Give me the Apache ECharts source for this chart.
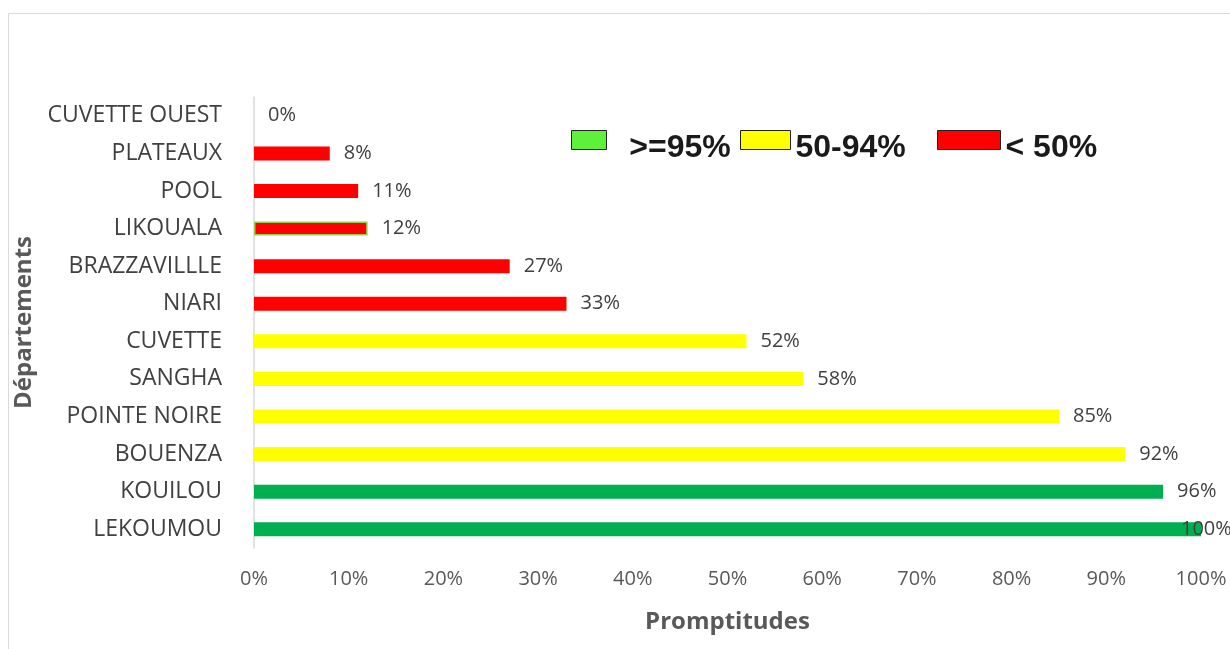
<!DOCTYPE html>
<html>
<head>
<meta charset="utf-8">
<script src="https://cdn.jsdelivr.net/npm/echarts@6/dist/echarts.min.js"></script>
<style>
  html, body { margin: 0; padding: 0; background: #fff; }
  #chart { width: 1230px; height: 649px; }
</style>
</head>
<body>
<div id="chart"></div>
<script>
// categories from bottom to top
const departements = ['LEKOUMOU', 'KOUILOU', 'BOUENZA', 'POINTE NOIRE', 'SANGHA', 'CUVETTE',
  'NIARI', 'BRAZZAVILLLE', 'LIKOUALA', 'POOL', 'PLATEAUX', 'CUVETTE OUEST'];
const promptitudes = [100, 96, 92, 85, 58, 52, 33, 27, 12, 11, 8, 0];
const xTicks = [0, 10, 20, 30, 40, 50, 60, 70, 80, 90, 100];
const classes = ['>=95%', '50-94%', '< 50%'];

const font = '"Open Sans", "Noto Sans", sans-serif';

// split values into the three colour classes
function inClass(v, k) {
  if (k === 0) return v >= 95;
  if (k === 1) return v >= 50 && v < 95;
  return v < 50;
}
const barColors = ['#00b050', '#ffff00', '#ff0000'];
const legendColors = ['#5ff03b', '#ffff00', '#ff0000'];
// legend boxes in the original have different widths
const legendLeft = [571, 740, 937];
const legendBoxW = [35, 50, 63];
const legendPad = ['  ', '', ''];

const series = classes.map((name, k) => ({
  name: name,
  type: 'bar',
  stack: 'all',
  barWidth: 14,
  itemStyle: { color: barColors[k] },
  label: {
    show: true, position: 'right', distance: 14,
    formatter: '{c}%', fontFamily: font, fontSize: 20, color: '#404040'
  },
  data: promptitudes.map((v, i) => {
    if (!inClass(v, k)) return null;
    const item = { value: v };
    if (departements[i] === 'LIKOUALA') item.itemStyle = { borderColor: '#92d050', borderWidth: 1.5 };
    if (v === 100) item.label = { offset: [-34, 0] };
    return item;
  })
}));

const legendFont = { fontFamily: 'Liberation Sans, Arial, sans-serif', fontWeight: 'bold', fontSize: 32, color: '#1a1a1a' };
const legends = classes.map((name, k) => ({
  left: legendLeft[k], top: 130, padding: 0,
  icon: 'rect',
  itemWidth: legendBoxW[k], itemHeight: 19,
  formatter: n => '{t|' + legendPad[k] + n + '}',
  textStyle: Object.assign({ rich: { t: Object.assign({ padding: [16, 0, 0, 0] }, legendFont) } }, legendFont),
  data: [{ name: name, itemStyle: { color: legendColors[k], borderColor: '#222', borderWidth: 1 } }]
}));

const chart = echarts.init(document.getElementById('chart'));
chart.setOption({
  animation: false,
  grid: { left: 254, right: 29, top: 97, bottom: 101 },
  graphic: [{
    type: 'rect', shape: { x: 8.5, y: 13.5, width: 1300, height: 700 },
    style: { fill: 'none', stroke: '#d9d9d9', lineWidth: 1 }, silent: true
  }],
  legend: legends,
  xAxis: {
    type: 'value', min: 0, max: 100, interval: 10,
    name: 'Promptitudes', nameLocation: 'middle', nameGap: 62,
    nameTextStyle: { fontFamily: font, fontSize: 24, fontWeight: 'bold', color: '#595959' },
    axisLine: { show: false }, axisTick: { show: false },
    splitLine: { show: false },
    axisLabel: {
      formatter: v => xTicks.includes(v) ? v + '%' : '',
      fontFamily: font, fontSize: 20, color: '#595959', margin: 21
    }
  },
  yAxis: {
    type: 'category', data: departements,
    name: 'Départements', nameLocation: 'middle', nameGap: 209, nameRotate: 90,
    nameTextStyle: { fontFamily: font, fontSize: 24, fontWeight: 'bold', color: '#595959' },
    axisLine: { show: true, lineStyle: { color: '#d9d9d9', width: 1.5 } },
    axisTick: { show: false },
    axisLabel: { fontFamily: font, fontSize: 23, color: '#404040', margin: 32 }
  },
  series: series
});
</script>
</body>
</html>
